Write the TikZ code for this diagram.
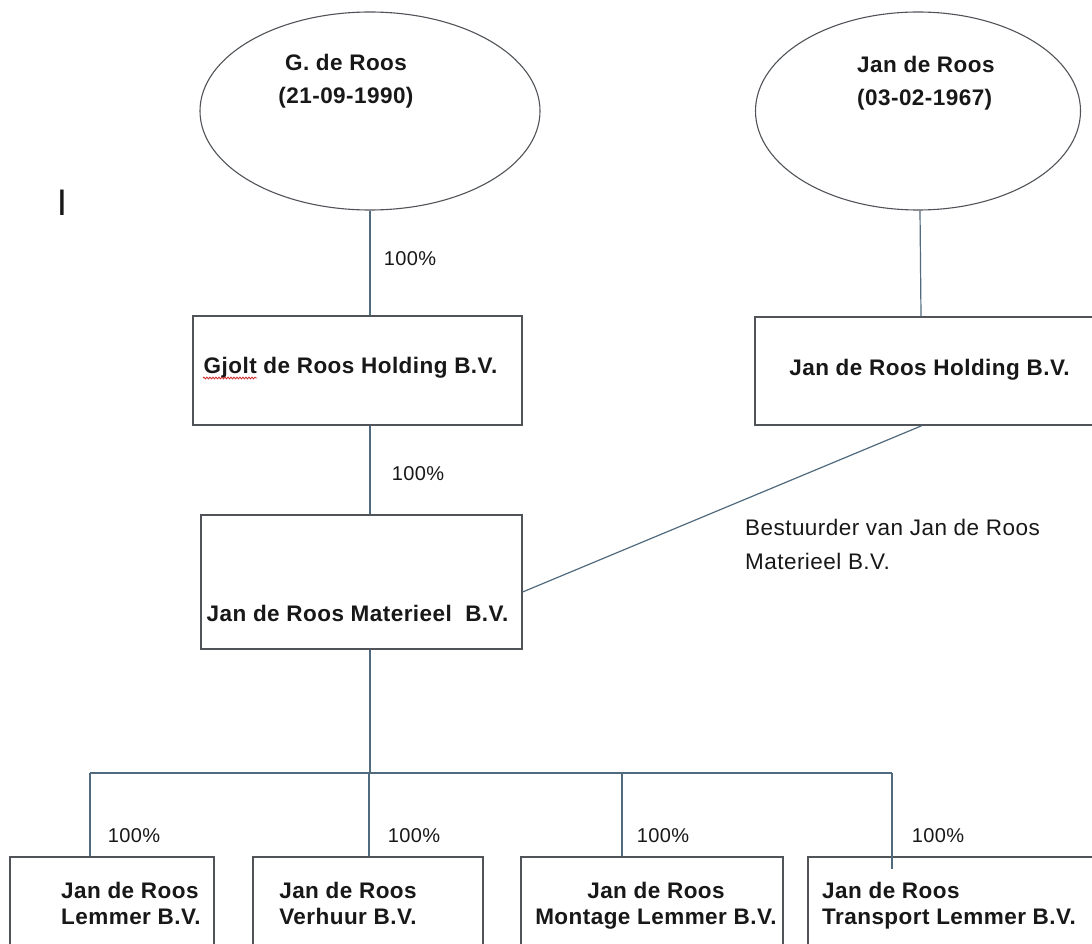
\documentclass[tikz,border=0pt]{standalone}
\usepackage{fontspec}
\setmainfont{Liberation Sans}[LetterSpace=2]
\usepackage{tikz}
\usetikzlibrary{positioning, calc, shapes.geometric, decorations.pathmorphing}
\definecolor{tieblue}{RGB}{80,106,126}
\definecolor{framegray}{RGB}{80,84,88}
\definecolor{inkgray}{RGB}{24,24,24}
\definecolor{spellred}{RGB}{210,40,40}

\begin{document}
\begin{tikzpicture}[x=1pt, y=-1pt,
    ownerellipse/.style={draw=framegray, line width=1.1pt, ellipse, inner sep=0pt},
    firmbox/.style={draw=framegray, line width=1.2pt, rectangle, inner sep=0pt},
    firmlabel/.style={inkgray, font=\fontsize{22.5}{26}\selectfont\bfseries, inner sep=0pt},
    sharelabel/.style={inkgray, font=\fontsize{20}{24}\selectfont, inner sep=0pt, anchor=base},
    tie/.style={draw=tieblue, line width=1.2pt}]
    \fill[white] (0,0) rectangle (1092,944);
    \useasboundingbox (0,0) rectangle (1092,944);

    % Owners
    \node[ownerellipse, minimum width=340pt, minimum height=198pt] (groos) at (370,111) {};
    \node[ownerellipse, minimum width=325pt, minimum height=198pt] (jroos) at (918,111) {};
    \node[firmlabel, align=center, anchor=north] (groos-t) at (346,54)
        {G. de Roos\\[7pt](21-09-1990)};
    \node[firmlabel, align=left, anchor=north west] (jroos-t) at (857,56)
        {Jan de Roos\\[7pt](03-02-1967)};
    \node[inkgray, font=\fontsize{37}{40}\selectfont, inner sep=0pt, anchor=base] (cursor) at (62,215) {I};

    % Holdings
    \node[firmbox, minimum width=329pt, minimum height=109pt] (gjolt) at (357.5,370.5) {};
    \node[firmlabel, anchor=base] (gjolt-t) at (350.5,373) {Gjolt de Roos Holding B.V.};
    \draw[spellred, line width=0.8pt, decorate, decoration={snake, amplitude=0.9pt, segment length=3pt}]
        (203,378) -- (257,378);
    \node[firmbox, minimum width=340pt, minimum height=108pt] (jholding) at (925,371) {};
    \node[firmlabel, anchor=base] (jholding-t) at (929.5,375) {Jan de Roos Holding B.V.};

    % Materieel
    \node[firmbox, minimum width=321pt, minimum height=134pt] (materieel) at (361.5,582) {};
    \node[firmlabel, anchor=base] (materieel-t) at (357.5,621) {Jan de Roos Materieel\ \ B.V.};
    \node[inkgray, font=\fontsize{22.5}{34}\selectfont, inner sep=0pt, align=left, anchor=north west]
        (bestuurder) at (745,519) {Bestuurder van Jan de Roos\\Materieel B.V.};

    % Subsidiaries
    \node[firmbox, minimum width=204pt, minimum height=108pt] (lemmer) at (112,911) {};
    \node[firmbox, minimum width=230pt, minimum height=108pt] (verhuur) at (368,911) {};
    \node[firmbox, minimum width=262pt, minimum height=108pt] (montage) at (652,911) {};
    \node[firmbox, minimum width=292pt, minimum height=108pt] (transport) at (954,911) {};
    \node[firmlabel, align=left, anchor=north west] (lemmer-t) at (61,882) {Jan de Roos\\Lemmer B.V.};
    \node[firmlabel, align=center, anchor=north] (verhuur-t) at (348,882) {Jan de Roos\\Verhuur B.V.};
    \node[firmlabel, align=center, anchor=north] (montage-t) at (656,882) {Jan de Roos\\Montage Lemmer B.V.};
    \node[firmlabel, align=left, anchor=north west] (transport-t) at (822,882) {Jan de Roos\\Transport Lemmer B.V.};

    % Connectors
    \coordinate (spine) at (370,0);
    \coordinate (bus) at (0,773);
    \coordinate (lemmerdrop) at (90,773);
    \coordinate (verhuurdrop) at (369,773);
    \coordinate (montagedrop) at (622,773);
    \coordinate (transportdrop) at (892,773);
    \draw[tie] (groos.south) -- (groos.south |- gjolt.north);
    \draw[tie] ([xshift=2pt]jroos.south) -- ([xshift=3pt]jroos.south |- jholding.north);
    \draw[tie] (spine |- gjolt.south) -- (spine |- materieel.north);
    \draw[tie] ([xshift=-3pt]jholding.south) -- ([yshift=-10pt]materieel.east);
    \draw[tie] (spine |- materieel.south) -- (spine |- bus);
    \draw[tie] (lemmerdrop) -- (transportdrop);
    \foreach \d/\b in {lemmerdrop/lemmer, verhuurdrop/verhuur, montagedrop/montage}
        \draw[tie] (\d) -- (\d |- \b.north);
    \draw[tie] (transportdrop) -- ($(transportdrop |- transport.north)+(0,13)$);

    % Shares
    \node[sharelabel] (pct-gjolt) at (410,265) {100\%};
    \node[sharelabel] (pct-materieel) at (418,480) {100\%};
    \node[sharelabel] (pct-lemmer) at (134,842) {100\%};
    \node[sharelabel] (pct-verhuur) at (414,842) {100\%};
    \node[sharelabel] (pct-montage) at (663,842) {100\%};
    \node[sharelabel] (pct-transport) at (938,842) {100\%};
\end{tikzpicture}
\end{document}
